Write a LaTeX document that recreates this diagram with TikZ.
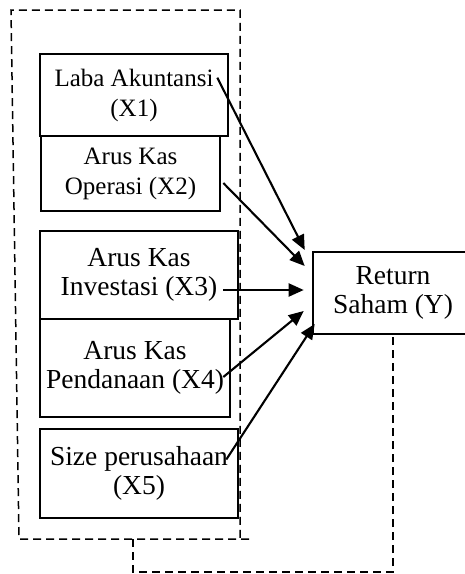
\documentclass[tikz,border=0pt]{standalone}
\usepackage{fontspec}
\setmainfont{Liberation Serif}
\usetikzlibrary{arrows.meta,calc}
\tikzstyle{var}=[draw,line width=2.6pt,align=center,inner sep=0pt]
\tikzstyle{bigvar}=[var,font=\fontsize{27.5}{29.5}\selectfont]
\tikzstyle{smallvar}=[var,font=\fontsize{25}{30}\selectfont]
\tikzstyle{link}=[line width=2.1pt,-{Triangle[length=15pt,width=13pt]}]
\tikzstyle{frame}=[line width=1.5pt,dash pattern=on 8pt off 5pt]

\begin{document}
\begin{tikzpicture}[x=1pt,y=-1pt]
  \useasboundingbox (0,0) rectangle (465,574);
  \node[smallvar,minimum width=188pt,minimum height=82pt] (X1) at (134,95)    {Laba Akuntansi\\(X1)};
  \node[smallvar,minimum width=179pt,minimum height=75pt] (X2) at (130.5,173.5) {Arus Kas\\Operasi (X2)};
  \node[bigvar,minimum width=198pt,minimum height=88pt]   (X3) at (139,275)   {Arus Kas\\Investasi (X3)};
  \node[bigvar,minimum width=190pt,minimum height=98pt]   (X4) at (135,368)   {Arus Kas\\Pendanaan (X4)};
  \node[bigvar,minimum width=198pt,minimum height=89pt]   (X5) at (139,473.5) {Size perusahaan\\(X5)};
  \node[bigvar,minimum width=160pt,minimum height=82pt]   (Y)  at (393,293)   {Return\\Saham (Y)};
  % arrow ends
  \coordinate (s1) at ($(X1.north east)+(-12,25)$);
  \coordinate (s2) at ($(X2.east)+(2,9.5)$);
  \coordinate (s3) at ($(X3.east)+(-16,15)$);
  \coordinate (s4) at ($(X4.east)+(-8,9)$);
  \coordinate (s5) at ($(X5.east)+(-13,-14)$);
  \coordinate (t1) at ($(Y.west)+(-7,-43)$);
  \coordinate (t2) at ($(Y.west)+(-7,-27)$);
  \coordinate (t3) at ($(Y.west)+(-8,-3)$);
  \coordinate (t4) at ($(Y.west)+(-8,18)$);
  \coordinate (t5) at ($(Y.west)+(3,31)$);
  \draw[link] (s1) -- (t1);
  \draw[link] (s2) -- (t2);
  \draw[link] (s3) -- (t3);
  \draw[link] (s4) -- (t4);
  \draw[link] (s5) -- (t5);
  % dashed frame
  \coordinate (fa) at (249,539);
  \coordinate (fb) at (19,539);
  \coordinate (fc) at (11,10);
  \coordinate (fd) at (240,10);
  \coordinate (fe) at (240,539);
  \draw[frame] (fa) -- (fb) -- (fc) -- (fd) -- (fe);
  \coordinate (la) at (133,539);
  \draw[frame] (la) -- (133,572) -| (Y.south);
\end{tikzpicture}
\end{document}
